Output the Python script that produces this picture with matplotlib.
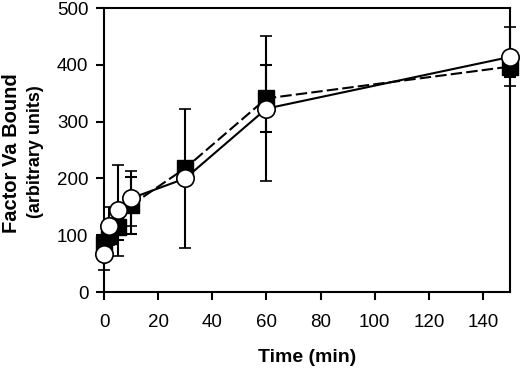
import matplotlib
matplotlib.use("Agg")
import matplotlib.pyplot as plt

time_min = [0, 2, 5, 10, 30, 60, 150]
square_vals = [84, 98, 114, 153, 218, 341, 397]
square_err = [16, 10, 22, 50, 10, 59, 19]
circle_vals = [67, 116, 144, 165, 200, 323, 414]
circle_err = [28, 33, 80, 48, 123, 128, 52]
x_ticks = [0, 20, 40, 60, 80, 100, 120, 140]
y_ticks = [0, 100, 200, 300, 400, 500]

plt.rcParams['font.family'] = ['Liberation Sans', 'DejaVu Sans']

fig = plt.figure(figsize=(5.2, 3.68), dpi=100)
ax = fig.add_axes([0.2, 0.2065, 0.781, 0.7715])

ax.errorbar(time_min, square_vals, yerr=square_err, color='black', lw=1.5,
            ls=(0, (5.5, 2)), marker='s', ms=11, mfc='black', mec='black',
            capsize=4.2, capthick=1.5, elinewidth=1.5, clip_on=False, zorder=3)
ax.errorbar(time_min, circle_vals, yerr=circle_err, color='black', lw=1.5,
            ls='-', marker='o', ms=12.5, mfc='white', mec='black', mew=1.2,
            capsize=4.2, capthick=1.5, elinewidth=1.5, clip_on=False, zorder=4)

ax.set_xlim(0, 150)
ax.set_ylim(0, 500)
ax.set_xticks(x_ticks)
ax.set_yticks(y_ticks)
ax.tick_params(direction='out', length=5.8, width=1.5, labelsize=13.5)
ax.tick_params(axis='x', pad=10)
ax.tick_params(axis='y', pad=5.5)
for s in ax.spines.values():
    s.set_linewidth(1.5)

fig.text(0.59, 0.017, 'Time (min)', fontsize=14, fontweight='bold',
         ha='center', va='baseline')
fig.text(0.032, 0.583, 'Factor Va Bound', rotation=90, fontsize=14.5,
         fontweight='bold', ha='center', va='baseline', rotation_mode='anchor')
fig.text(0.076, 0.588, '(arbitrary units)', rotation=90, fontsize=13,
         fontweight='bold', ha='center', va='baseline', rotation_mode='anchor')

fig.savefig('out.png', dpi=100)
